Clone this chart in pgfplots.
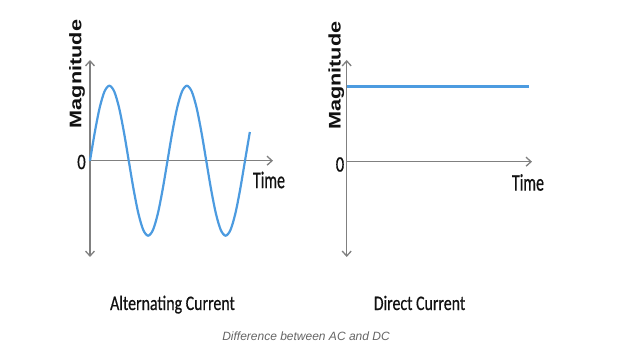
\documentclass[border=0pt]{standalone}
\usepackage{pgfplots}
\pgfplotsset{compat=1.18}
\usepackage{fontspec}
\setmainfont{Carlito}
\newfontfamily\calthick[FakeBold=0.6]{Carlito}
\newfontfamily\arial{Liberation Sans}
\usetikzlibrary{arrows.meta}
\definecolor{acblue}{HTML}{4C9BE0}
\definecolor{axgray}{HTML}{808080}
\definecolor{capgray}{HTML}{666666}
\definecolor{txt}{HTML}{111111}
\pgfplotsset{
  myaxis/.style={
    anchor=south west, scale only axis,
    axis lines=middle,
    axis line style={axgray, line width=1.3pt},
    x axis line style={-{Straight Barb[length=5pt,width=9pt]}},
    y axis line style={{Straight Barb[length=5pt,width=9pt]}-{Straight Barb[length=5pt,width=9pt]}},
    xtick=\empty, ytick=\empty, clip=false,
  }
}
\begin{document}
\begin{tikzpicture}
\path[fill=white, use as bounding box] (0,0) rectangle (624pt,362pt);
% ---------------- AC ----------------
\begin{axis}[myaxis,
  at={(90pt,105pt)}, width=183pt, height=197pt,
  xmin=0, xmax=183, ymin=-96.3, ymax=100.7]
\addplot[acblue, line width=2.2pt, smooth] coordinates {
(0,0) (4.844,28.70) (9.688,53.03) (14.531,69.29) (19.375,75) (24.219,69.29) (29.063,53.03) (33.906,28.70)
(38.75,0) (43.594,-28.70) (48.438,-53.03) (53.281,-69.29) (58.125,-75) (62.969,-69.29) (67.813,-53.03) (72.656,-28.70)
(77.5,0) (82.344,28.70) (87.188,53.03) (92.031,69.29) (96.875,75) (101.719,69.29) (106.563,53.03) (111.406,28.70)
(116.25,0) (121.094,-28.70) (125.938,-53.03) (130.781,-69.29) (135.625,-75) (140.469,-69.29) (145.313,-53.03) (150.156,-28.70)
(155,0) (159.844,28.70)
};
\node[txt, font=\calthick\fontsize{16.6}{19}\selectfont] at (axis cs:-8.5,-1.3) {\scalebox{1}[1.33]{0}};
\node[txt, font=\calthick\fontsize{15.9}{19}\selectfont] at (axis cs:179,-19.3) {\scalebox{1}[1.5]{Time}};
\node[txt, rotate=90, font=\arial\bfseries\fontsize{16.8}{19}\selectfont] at (axis cs:-13,86.7) {\scalebox{1.29}[1]{Magnitude}};
\end{axis}
% ---------------- DC ----------------
\begin{axis}[myaxis,
  at={(346.7pt,105pt)}, width=185.3pt, height=197pt,
  xmin=0, xmax=185.3, ymin=-95.3, ymax=101.7]
\addplot[acblue, line width=2.6pt] coordinates {(0,75) (182.3,75)};
\node[txt, font=\calthick\fontsize{16.6}{19}\selectfont] at (axis cs:-6.7,-2.8) {\scalebox{1}[1.33]{0}};
\node[txt, font=\calthick\fontsize{15.9}{19}\selectfont] at (axis cs:181.3,-20.8) {\scalebox{1}[1.5]{Time}};
\node[txt, rotate=90, font=\arial\bfseries\fontsize{16.8}{19}\selectfont] at (axis cs:-10.4,85.9) {\scalebox{1.29}[1]{Magnitude}};
\end{axis}
% ---------------- titles ----------------
\node[txt, anchor=base, font=\calthick\fontsize{15.9}{19}\selectfont] at (172.5pt,52pt) {\scalebox{1}[1.3]{Alternating Current}};
\node[txt, anchor=base, font=\calthick\fontsize{15.9}{19}\selectfont] at (419.5pt,52pt) {\scalebox{1}[1.3]{Direct Current}};
\node[capgray, anchor=base, font=\arial\itshape\fontsize{12}{14}\selectfont] at (306pt,22pt) {Difference between AC and DC};
\end{tikzpicture}
\end{document}
